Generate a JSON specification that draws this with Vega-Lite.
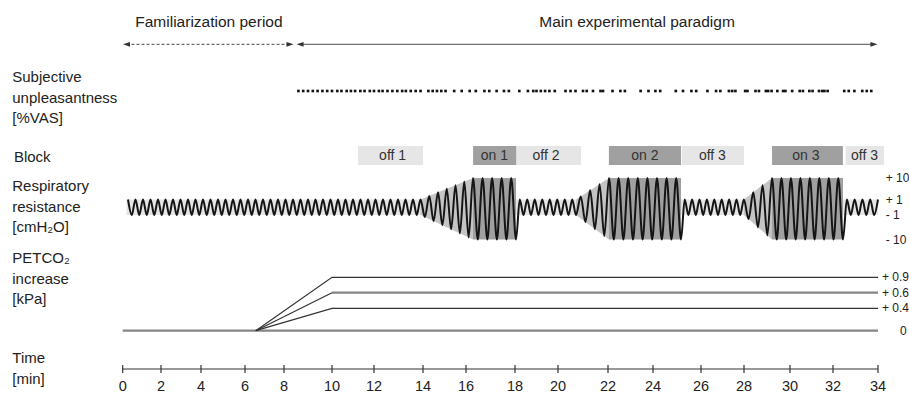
{
"$schema": "https://vega.github.io/schema/vega-lite/v6.json",
"width": 909,
"height": 365,
"autosize": {"type": "none"},
"padding": {"left": 0, "top": 0, "right": 0, "bottom": 30},
"config": {"view": {"stroke": null}, "font": "Liberation Sans"},
"resolve": {"scale": {"y": "independent"}},
"datasets": {
"labels": [
{"t": -5.4, "ly": 1, "text": "Subjective\nunpleasantness\n[%VAS]"},
{"t": -5.32, "ly": 2, "text": "Block"},
{"t": -5.4, "ly": 3, "text": "Respiratory\nresistance\n[cmH₂O]"},
{"t": -5.4, "ly": 4, "text": "PETCO₂\nincrease\n[kPa]"},
{"t": -5.4, "ly": 5, "text": "Time\n[min]"}
],
"axisline": [{"t": 0, "t2": 34}],
"ticks": [{"t":0},{"t":2},{"t":4},{"t":6},{"t":8},{"t":10},{"t":12},{"t":14},{"t":16},{"t":18},{"t":20},{"t":22},{"t":24},{"t":26},{"t":28},{"t":30},{"t":32},{"t":34}],
"hdrRules": [{"t": 0.2, "t2": 8.25, "style": "dashed"}, {"t": 8.67, "t2": 33.82, "style": "solid"}],
"hdrHeads": [{"t": 0.2, "dir": "left"}, {"t": 8.25, "dir": "right"}, {"t": 8.67, "dir": "left"}, {"t": 33.82, "dir": "right"}],
"hdrText": [{"t": 4.36, "text": "Familiarization period"}, {"t": 23.29, "text": "Main experimental paradigm"}],
"vas": [
{"t":8.6},{"t":8.8},{"t":9.0},{"t":9.2},{"t":9.4},{"t":9.6},{"t":9.8},{"t":10.0},{"t":10.25},{"t":10.45},{"t":10.7},{"t":10.9},{"t":11.1},{"t":11.35},{"t":11.55},{"t":11.8},{"t":12.0},{"t":12.2},{"t":12.35},{"t":12.55},{"t":12.75},{"t":12.95},{"t":13.15},{"t":13.3},{"t":13.5},{"t":13.7},{"t":13.9},{"t":14.25},{"t":14.45},{"t":14.65},{"t":14.85},{"t":15.05},{"t":15.45},{"t":15.8},{"t":16.15},{"t":16.4},{"t":16.75},{"t":16.95},{"t":17.25},{"t":17.55},{"t":17.75},{"t":18.2},{"t":18.6},{"t":18.85},{"t":19.0},{"t":19.2},{"t":19.4},{"t":19.6},{"t":19.85},{"t":20.3},{"t":20.5},{"t":20.7},{"t":21.0},{"t":21.15},{"t":21.4},{"t":21.7},{"t":21.8},{"t":22.2},{"t":22.55},{"t":22.75},{"t":23.45},{"t":23.8},{"t":24.1},{"t":24.3},{"t":24.95},{"t":25.25},{"t":25.6},{"t":25.8},{"t":26.3},{"t":26.7},{"t":26.9},{"t":27.3},{"t":27.45},{"t":27.6},{"t":28.05},{"t":28.15},{"t":28.5},{"t":28.65},{"t":28.95},{"t":29.05},{"t":29.2},{"t":29.45},{"t":29.7},{"t":29.8},{"t":30.1},{"t":30.45},{"t":30.6},{"t":30.9},{"t":31.05},{"t":31.35},{"t":31.5},{"t":31.6},{"t":31.75},{"t":32.5},{"t":32.7},{"t":32.95},{"t":33.3},{"t":33.5},{"t":33.7}
],
"blocks": [
{"t": 11.24, "t2": 14.0, "kind": "off"},
{"t": 16.29, "t2": 18.07, "kind": "on"},
{"t": 18.07, "t2": 20.92, "kind": "off"},
{"t": 22.04, "t2": 25.17, "kind": "on"},
{"t": 25.21, "t2": 28.0, "kind": "off"},
{"t": 29.22, "t2": 32.44, "kind": "on"},
{"t": 32.56, "t2": 34.27, "kind": "off"}
],
"blockText": [
{"t": 12.76, "text": "off 1"},
{"t": 17.16, "text": "on 1"},
{"t": 19.44, "text": "off 2"},
{"t": 23.64, "text": "on 2"},
{"t": 26.53, "text": "off 3"},
{"t": 30.74, "text": "on 3"},
{"t": 33.4, "text": "off 3"}
],
"band": [{"t": 0.2, "t2": 34.0, "p": 1, "p2": -1}],
"ramps": [
{"ramp": 1, "t": 13.898, "hi": 1, "lo": -1}, {"ramp": 1, "t": 16.286, "hi": 10, "lo": -10},
{"ramp": 2, "t": 20.72, "hi": 1, "lo": -1}, {"ramp": 2, "t": 22.044, "hi": 10, "lo": -10},
{"ramp": 3, "t": 27.995, "hi": 1, "lo": -1}, {"ramp": 3, "t": 29.217, "hi": 10, "lo": -10}
],
"onRects": [
{"t": 16.286, "t2": 18.047, "p": 10, "p2": -10},
{"t": 22.044, "t2": 25.167, "p": 10, "p2": -10},
{"t": 29.217, "t2": 32.444, "p": 10, "p2": -10}
],
"wave": [
{"t":0.277,"p":1},{"t":0.473,"p":-1},{"t":0.668,"p":1},{"t":0.864,"p":-1},{"t":1.060,"p":1},{"t":1.256,"p":-1},{"t":1.452,"p":1},{"t":1.647,"p":-1},{"t":1.843,"p":1},{"t":2.038,"p":-1},
{"t":2.225,"p":1},{"t":2.413,"p":-1},{"t":2.600,"p":1},{"t":2.788,"p":-1},{"t":2.975,"p":1},{"t":3.163,"p":-1},{"t":3.350,"p":1},{"t":3.538,"p":-1},{"t":3.725,"p":1},{"t":3.913,"p":-1},
{"t":4.091,"p":1},{"t":4.261,"p":-1},{"t":4.432,"p":1},{"t":4.602,"p":-1},{"t":4.773,"p":1},{"t":4.943,"p":-1},{"t":5.114,"p":1},{"t":5.284,"p":-1},{"t":5.455,"p":1},{"t":5.625,"p":-1},
{"t":5.795,"p":1},{"t":5.966,"p":-1},{"t":6.154,"p":1},{"t":6.346,"p":-1},{"t":6.538,"p":1},{"t":6.731,"p":-1},{"t":6.923,"p":1},{"t":7.115,"p":-1},{"t":7.308,"p":1},{"t":7.500,"p":-1},
{"t":7.692,"p":1},{"t":7.885,"p":-1},{"t":8.063,"p":1},{"t":8.219,"p":-1},{"t":8.375,"p":1},{"t":8.531,"p":-1},{"t":8.688,"p":1},{"t":8.844,"p":-1},{"t":9.000,"p":1},{"t":9.156,"p":-1},
{"t":9.313,"p":1},{"t":9.469,"p":-1},{"t":9.625,"p":1},{"t":9.781,"p":-1},{"t":9.938,"p":1},{"t":10.107,"p":-1},{"t":10.286,"p":1},{"t":10.464,"p":-1},{"t":10.643,"p":1},{"t":10.821,"p":-1},
{"t":11.000,"p":1},{"t":11.179,"p":-1},{"t":11.357,"p":1},{"t":11.536,"p":-1},{"t":11.714,"p":1},{"t":11.893,"p":-1},{"t":12.061,"p":1},{"t":12.214,"p":-1},{"t":12.367,"p":1},{"t":12.520,"p":-1},
{"t":12.673,"p":1},{"t":12.827,"p":-1},{"t":12.980,"p":1},{"t":13.133,"p":-1},{"t":13.286,"p":1},{"t":13.439,"p":-1},{"t":13.592,"p":1},{"t":13.745,"p":-1},{"t":13.898,"p":1},
{"t":14.087,"p":-1.75},{"t":14.291,"p":2.5},{"t":14.494,"p":-3.25},{"t":14.698,"p":4},{"t":14.901,"p":-4.75},{"t":15.105,"p":5.5},{"t":15.308,"p":-6.25},{"t":15.512,"p":7},{"t":15.715,"p":-7.75},{"t":15.919,"p":8.5},{"t":16.107,"p":-9.25},{"t":16.286,"p":10},
{"t":16.481,"p":-10},{"t":16.676,"p":10},{"t":16.871,"p":-10},{"t":17.066,"p":10},{"t":17.261,"p":-10},{"t":17.456,"p":10},{"t":17.651,"p":-10},{"t":17.846,"p":10},{"t":18.047,"p":-10},
{"t":18.221,"p":1},{"t":18.395,"p":-1},{"t":18.570,"p":1},{"t":18.744,"p":-1},{"t":18.919,"p":1},{"t":19.093,"p":-1},{"t":19.267,"p":1},{"t":19.442,"p":-1},{"t":19.616,"p":1},{"t":19.791,"p":-1},{"t":19.965,"p":1},{"t":20.12,"p":-1},{"t":20.27,"p":1},{"t":20.42,"p":-1},{"t":20.57,"p":1},{"t":20.72,"p":-1},
{"t":20.909,"p":2.286},{"t":21.097,"p":-3.571},{"t":21.286,"p":4.857},{"t":21.474,"p":-6.143},{"t":21.663,"p":7.429},{"t":21.851,"p":-8.714},{"t":22.044,"p":10},
{"t":22.258,"p":-10},{"t":22.471,"p":10},{"t":22.684,"p":-10},{"t":22.898,"p":10},{"t":23.111,"p":-10},{"t":23.324,"p":10},{"t":23.538,"p":-10},{"t":23.751,"p":10},{"t":23.964,"p":-10},{"t":24.167,"p":10},{"t":24.367,"p":-10},{"t":24.567,"p":10},{"t":24.767,"p":-10},{"t":24.967,"p":10},{"t":25.167,"p":-10},
{"t":25.321,"p":1},{"t":25.475,"p":-1},{"t":25.629,"p":1},{"t":25.783,"p":-1},{"t":25.938,"p":1},{"t":26.102,"p":-1},{"t":26.274,"p":1},{"t":26.447,"p":-1},{"t":26.619,"p":1},{"t":26.791,"p":-1},{"t":26.963,"p":1},{"t":27.135,"p":-1},{"t":27.307,"p":1},{"t":27.479,"p":-1},{"t":27.651,"p":1},{"t":27.823,"p":-1},{"t":27.995,"p":1},
{"t":28.199,"p":-2.5},{"t":28.403,"p":4},{"t":28.607,"p":-5.5},{"t":28.810,"p":7},{"t":29.014,"p":-8.5},{"t":29.217,"p":10},
{"t":29.423,"p":-10},{"t":29.629,"p":10},{"t":29.835,"p":-10},{"t":30.043,"p":10},{"t":30.264,"p":-10},{"t":30.484,"p":10},{"t":30.704,"p":-10},{"t":30.924,"p":10},{"t":31.144,"p":-10},{"t":31.364,"p":10},{"t":31.585,"p":-10},{"t":31.805,"p":10},{"t":32.024,"p":-10},{"t":32.234,"p":10},{"t":32.444,"p":-10},
{"t":32.617,"p":1},{"t":32.790,"p":-1},{"t":32.963,"p":1},{"t":33.136,"p":-1},{"t":33.309,"p":1},{"t":33.481,"p":-1},{"t":33.654,"p":1},{"t":33.827,"p":-1},{"t":34.000,"p":1}
],
"resLabels": [{"t": 34.35, "p": 10, "text": "+ 10"}, {"t": 34.35, "p": 1, "text": "+ 1"}, {"t": 34.35, "p": -1, "text": "- 1"}, {"t": 34.35, "p": -10, "text": "- 10"}],
"petThick": [
{"s": "0", "t": 0, "k": 0}, {"s": "0", "t": 34, "k": 0},
{"s": "0.6", "t": 10, "k": 0.6}, {"s": "0.6", "t": 34, "k": 0.6}
],
"petThin": [
{"s": "0.4", "t": 6.55, "k": 0}, {"s": "0.4", "t": 10, "k": 0.4}, {"s": "0.4", "t": 34, "k": 0.4},
{"s": "0.6", "t": 6.55, "k": 0}, {"s": "0.6", "t": 10, "k": 0.6},
{"s": "0.9", "t": 6.55, "k": 0}, {"s": "0.9", "t": 10, "k": 0.9}, {"s": "0.9", "t": 34, "k": 0.9}
],
"petLabels": [{"t": 34.18, "k": 0.9, "text": "+ 0.9"}, {"t": 34.18, "k": 0.6, "text": "+ 0.6"}, {"t": 34.18, "k": 0.4, "text": "+ 0.4"}, {"t": 34.99, "k": 0, "text": "0"}]
},
"layer": [
{
"data": {"name": "labels"},
"mark": {"type": "text", "align": "left", "baseline": "middle", "fontSize": 15, "lineHeight": 20.7, "lineBreak": "\n", "color": "#222"},
"encoding": {
"x": {"field": "t", "type": "quantitative", "scale": {"type": "linear", "domain": [-6,0,2,4,6,8,10,12,14,16,18,20,22,24,26,28,30,32,34,35.4], "range": [0,122.7,161,201,245,284,332,374,423,466,515,558,608,653,701,744,790,833,878,909], "zero": false, "nice": false}, "axis": null},
"y": {"field": "ly", "type": "quantitative", "scale": {"type": "linear", "domain": [1,2,3,4,5], "range": [77,157,186,258,358], "zero": false, "nice": false}, "axis": null},
"text": {"field": "text"}
}
},
{
"data": {"name": "axisline"},
"mark": {"type": "rule", "color": "#333", "strokeWidth": 1.2},
"encoding": {
"x": {"field": "t", "type": "quantitative", "scale": {"type": "linear", "domain": [-6,0,2,4,6,8,10,12,14,16,18,20,22,24,26,28,30,32,34,35.4], "range": [0,122.7,161,201,245,284,332,374,423,466,515,558,608,653,701,744,790,833,878,909], "zero": false, "nice": false}, "axis": null},
"x2": {"field": "t2"},
"y": {"datum": 0, "type": "quantitative", "scale": {"type": "linear", "domain": [0,1], "range": [369,359], "zero": false, "nice": false}, "axis": null}
}
},
{
"data": {"name": "ticks"},
"mark": {"type": "rule", "color": "#333", "strokeWidth": 1.2},
"encoding": {
"x": {"field": "t", "type": "quantitative", "scale": {"type": "linear", "domain": [-6,0,2,4,6,8,10,12,14,16,18,20,22,24,26,28,30,32,34,35.4], "range": [0,122.7,161,201,245,284,332,374,423,466,515,558,608,653,701,744,790,833,878,909], "zero": false, "nice": false}, "axis": null},
"y": {"datum": -0.4, "type": "quantitative", "scale": {"type": "linear", "domain": [0,1], "range": [369,359], "zero": false, "nice": false}, "axis": null},
"y2": {"datum": 0.4}
}
},
{
"data": {"name": "ticks"},
"mark": {"type": "text", "align": "center", "baseline": "alphabetic", "fontSize": 14.5, "color": "#222"},
"encoding": {
"x": {"field": "t", "type": "quantitative", "scale": {"type": "linear", "domain": [-6,0,2,4,6,8,10,12,14,16,18,20,22,24,26,28,30,32,34,35.4], "range": [0,122.7,161,201,245,284,332,374,423,466,515,558,608,653,701,744,790,833,878,909], "zero": false, "nice": false}, "axis": null},
"y": {"datum": -2.2, "type": "quantitative", "scale": {"type": "linear", "domain": [0,1], "range": [369,359], "zero": false, "nice": false}, "axis": null},
"text": {"field": "t", "type": "quantitative"}
}
},
{
"data": {"name": "hdrRules"},
"mark": {"type": "rule", "color": "#444", "strokeWidth": 1},
"encoding": {
"x": {"field": "t", "type": "quantitative", "scale": {"type": "linear", "domain": [-6,0,2,4,6,8,10,12,14,16,18,20,22,24,26,28,30,32,34,35.4], "range": [0,122.7,161,201,245,284,332,374,423,466,515,558,608,653,701,744,790,833,878,909], "zero": false, "nice": false}, "axis": null},
"x2": {"field": "t2"},
"y": {"datum": 0, "type": "quantitative", "scale": {"type": "linear", "domain": [0,1], "range": [44.3,27.3], "zero": false, "nice": false}, "axis": null},
"strokeDash": {"field": "style", "type": "nominal", "scale": {"domain": ["dashed","solid"], "range": [[3,2],[1,0]]}, "legend": null}
}
},
{
"data": {"name": "hdrHeads"},
"mark": {"type": "point", "filled": true, "opacity": 1, "size": 49, "color": "#333", "strokeWidth": 0},
"encoding": {
"x": {"field": "t", "type": "quantitative", "scale": {"type": "linear", "domain": [-6,0,2,4,6,8,10,12,14,16,18,20,22,24,26,28,30,32,34,35.4], "range": [0,122.7,161,201,245,284,332,374,423,466,515,558,608,653,701,744,790,833,878,909], "zero": false, "nice": false}, "axis": null},
"y": {"datum": 0, "type": "quantitative", "scale": {"type": "linear", "domain": [0,1], "range": [44.3,27.3], "zero": false, "nice": false}, "axis": null},
"shape": {"field": "dir", "type": "nominal", "scale": {"domain": ["left","right"], "range": ["M-1,0L1,-0.67L1,0.67Z", "M1,0L-1,-0.67L-1,0.67Z"]}, "legend": null}
}
},
{
"data": {"name": "hdrText"},
"mark": {"type": "text", "align": "center", "baseline": "alphabetic", "fontSize": 15.5, "color": "#222"},
"encoding": {
"x": {"field": "t", "type": "quantitative", "scale": {"type": "linear", "domain": [-6,0,2,4,6,8,10,12,14,16,18,20,22,24,26,28,30,32,34,35.4], "range": [0,122.7,161,201,245,284,332,374,423,466,515,558,608,653,701,744,790,833,878,909], "zero": false, "nice": false}, "axis": null},
"y": {"datum": 1, "type": "quantitative", "scale": {"type": "linear", "domain": [0,1], "range": [44.3,27.3], "zero": false, "nice": false}, "axis": null},
"text": {"field": "text"}
}
},
{
"data": {"name": "vas"},
"mark": {"type": "square", "size": 7, "opacity": 1, "color": "#111"},
"encoding": {
"x": {"field": "t", "type": "quantitative", "scale": {"type": "linear", "domain": [-6,0,2,4,6,8,10,12,14,16,18,20,22,24,26,28,30,32,34,35.4], "range": [0,122.7,161,201,245,284,332,374,423,466,515,558,608,653,701,744,790,833,878,909], "zero": false, "nice": false}, "axis": null},
"y": {"datum": 0, "type": "quantitative", "scale": {"type": "linear", "domain": [0,1], "range": [91,61], "zero": false, "nice": false}, "axis": null}
}
},
{
"data": {"name": "blocks"},
"mark": {"type": "rect", "strokeWidth": 0},
"encoding": {
"x": {"field": "t", "type": "quantitative", "scale": {"type": "linear", "domain": [-6,0,2,4,6,8,10,12,14,16,18,20,22,24,26,28,30,32,34,35.4], "range": [0,122.7,161,201,245,284,332,374,423,466,515,558,608,653,701,744,790,833,878,909], "zero": false, "nice": false}, "axis": null},
"x2": {"field": "t2"},
"y": {"datum": 0, "type": "quantitative", "scale": {"type": "linear", "domain": [0,1], "range": [165,146], "zero": false, "nice": false}, "axis": null},
"y2": {"datum": 1},
"color": {"field": "kind", "type": "nominal", "scale": {"domain": ["off","on"], "range": ["#e6e6e6","#a0a0a0"]}, "legend": null}
}
},
{
"data": {"name": "blockText"},
"mark": {"type": "text", "align": "center", "baseline": "middle", "fontSize": 14, "color": "#333"},
"encoding": {
"x": {"field": "t", "type": "quantitative", "scale": {"type": "linear", "domain": [-6,0,2,4,6,8,10,12,14,16,18,20,22,24,26,28,30,32,34,35.4], "range": [0,122.7,161,201,245,284,332,374,423,466,515,558,608,653,701,744,790,833,878,909], "zero": false, "nice": false}, "axis": null},
"y": {"datum": 0.5, "type": "quantitative", "scale": {"type": "linear", "domain": [0,1], "range": [165,146], "zero": false, "nice": false}, "axis": null},
"text": {"field": "text"}
}
},
{
"data": {"name": "band"},
"mark": {"type": "rect", "color": "#e6e6e6", "strokeWidth": 0},
"encoding": {
"x": {"field": "t", "type": "quantitative", "scale": {"type": "linear", "domain": [-6,0,2,4,6,8,10,12,14,16,18,20,22,24,26,28,30,32,34,35.4], "range": [0,122.7,161,201,245,284,332,374,423,466,515,558,608,653,701,744,790,833,878,909], "zero": false, "nice": false}, "axis": null},
"x2": {"field": "t2"},
"y": {"field": "p", "type": "quantitative", "scale": {"type": "linear", "domain": [-10,-1,1,10], "range": [239.5,215,199.5,178], "zero": false, "nice": false}, "axis": null},
"y2": {"field": "p2"}
}
},
{
"data": {"name": "ramps"},
"mark": {"type": "area", "color": "#c4c4c4", "opacity": 1},
"encoding": {
"x": {"field": "t", "type": "quantitative", "scale": {"type": "linear", "domain": [-6,0,2,4,6,8,10,12,14,16,18,20,22,24,26,28,30,32,34,35.4], "range": [0,122.7,161,201,245,284,332,374,423,466,515,558,608,653,701,744,790,833,878,909], "zero": false, "nice": false}, "axis": null},
"y": {"field": "hi", "type": "quantitative", "scale": {"type": "linear", "domain": [-10,-1,1,10], "range": [239.5,215,199.5,178], "zero": false, "nice": false}, "axis": null},
"y2": {"field": "lo"},
"detail": {"field": "ramp", "type": "nominal"}
}
},
{
"data": {"name": "onRects"},
"mark": {"type": "rect", "color": "#a0a0a0", "strokeWidth": 0},
"encoding": {
"x": {"field": "t", "type": "quantitative", "scale": {"type": "linear", "domain": [-6,0,2,4,6,8,10,12,14,16,18,20,22,24,26,28,30,32,34,35.4], "range": [0,122.7,161,201,245,284,332,374,423,466,515,558,608,653,701,744,790,833,878,909], "zero": false, "nice": false}, "axis": null},
"x2": {"field": "t2"},
"y": {"field": "p", "type": "quantitative", "scale": {"type": "linear", "domain": [-10,-1,1,10], "range": [239.5,215,199.5,178], "zero": false, "nice": false}, "axis": null},
"y2": {"field": "p2"}
}
},
{
"data": {"name": "wave"},
"mark": {"type": "line", "interpolate": "monotone", "color": "#151515", "strokeWidth": 2},
"encoding": {
"x": {"field": "t", "type": "quantitative", "scale": {"type": "linear", "domain": [-6,0,2,4,6,8,10,12,14,16,18,20,22,24,26,28,30,32,34,35.4], "range": [0,122.7,161,201,245,284,332,374,423,466,515,558,608,653,701,744,790,833,878,909], "zero": false, "nice": false}, "axis": null},
"y": {"field": "p", "type": "quantitative", "scale": {"type": "linear", "domain": [-10,-1,1,10], "range": [239.5,215,199.5,178], "zero": false, "nice": false}, "axis": null}
}
},
{
"data": {"name": "resLabels"},
"mark": {"type": "text", "align": "left", "baseline": "middle", "fontSize": 12, "color": "#222"},
"encoding": {
"x": {"field": "t", "type": "quantitative", "scale": {"type": "linear", "domain": [-6,0,2,4,6,8,10,12,14,16,18,20,22,24,26,28,30,32,34,35.4], "range": [0,122.7,161,201,245,284,332,374,423,466,515,558,608,653,701,744,790,833,878,909], "zero": false, "nice": false}, "axis": null},
"y": {"field": "p", "type": "quantitative", "scale": {"type": "linear", "domain": [-10,-1,1,10], "range": [239.5,215,199.5,178], "zero": false, "nice": false}, "axis": null},
"text": {"field": "text"}
}
},
{
"data": {"name": "petThick"},
"mark": {"type": "line", "color": "#858585", "strokeWidth": 2.2},
"encoding": {
"x": {"field": "t", "type": "quantitative", "scale": {"type": "linear", "domain": [-6,0,2,4,6,8,10,12,14,16,18,20,22,24,26,28,30,32,34,35.4], "range": [0,122.7,161,201,245,284,332,374,423,466,515,558,608,653,701,744,790,833,878,909], "zero": false, "nice": false}, "axis": null},
"y": {"field": "k", "type": "quantitative", "scale": {"type": "linear", "domain": [0,0.4,0.6,0.9], "range": [330.7,308.3,292.7,277.3], "zero": false, "nice": false}, "axis": null},
"detail": {"field": "s", "type": "nominal"}
}
},
{
"data": {"name": "petThin"},
"mark": {"type": "line", "color": "#333", "strokeWidth": 1.2},
"encoding": {
"x": {"field": "t", "type": "quantitative", "scale": {"type": "linear", "domain": [-6,0,2,4,6,8,10,12,14,16,18,20,22,24,26,28,30,32,34,35.4], "range": [0,122.7,161,201,245,284,332,374,423,466,515,558,608,653,701,744,790,833,878,909], "zero": false, "nice": false}, "axis": null},
"y": {"field": "k", "type": "quantitative", "scale": {"type": "linear", "domain": [0,0.4,0.6,0.9], "range": [330.7,308.3,292.7,277.3], "zero": false, "nice": false}, "axis": null},
"detail": {"field": "s", "type": "nominal"}
}
},
{
"data": {"name": "petLabels"},
"mark": {"type": "text", "align": "left", "baseline": "middle", "fontSize": 12, "color": "#222"},
"encoding": {
"x": {"field": "t", "type": "quantitative", "scale": {"type": "linear", "domain": [-6,0,2,4,6,8,10,12,14,16,18,20,22,24,26,28,30,32,34,35.4], "range": [0,122.7,161,201,245,284,332,374,423,466,515,558,608,653,701,744,790,833,878,909], "zero": false, "nice": false}, "axis": null},
"y": {"field": "k", "type": "quantitative", "scale": {"type": "linear", "domain": [0,0.4,0.6,0.9], "range": [330.7,308.3,292.7,277.3], "zero": false, "nice": false}, "axis": null},
"text": {"field": "text"}
}
}
]
}
